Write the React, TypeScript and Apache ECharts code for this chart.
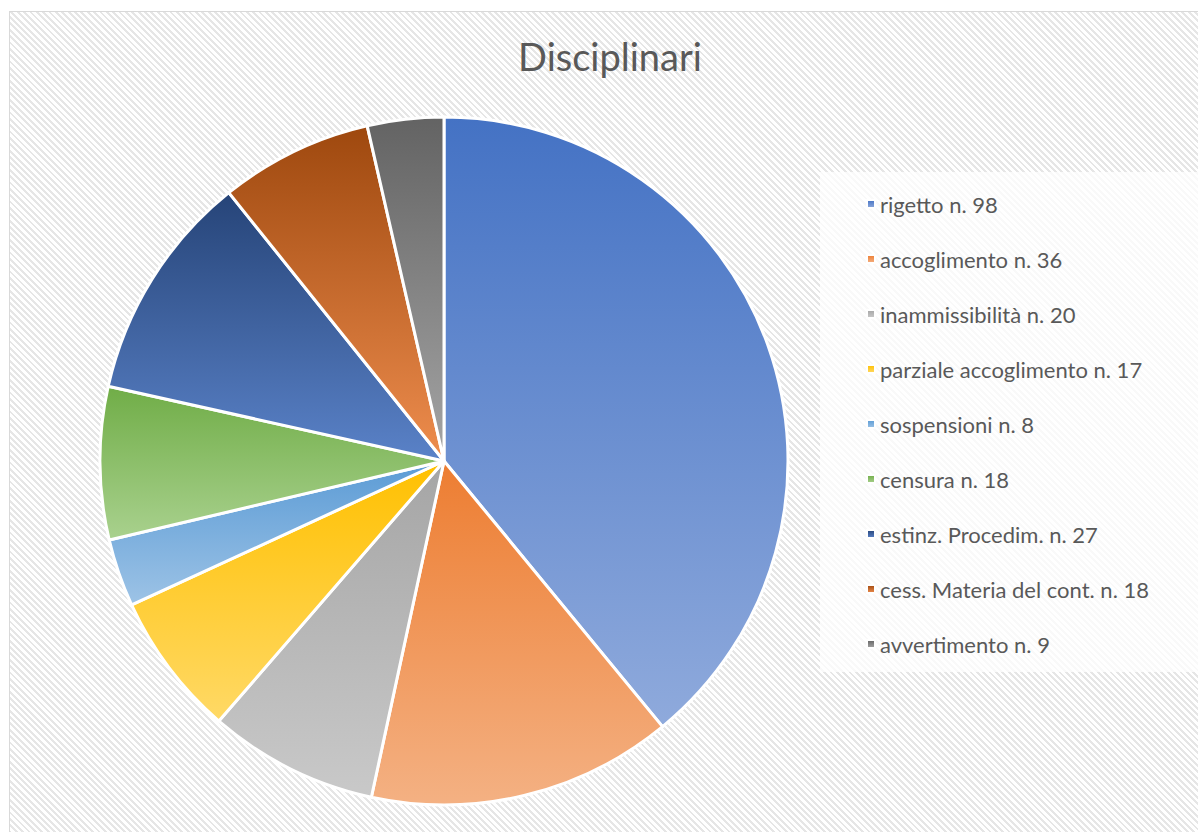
import React, { useEffect, useRef } from "react";
import * as echarts from "echarts";

const categories = [
  "rigetto n. 98",
  "accoglimento n. 36",
  "inammissibilità n. 20",
  "parziale accoglimento n. 17",
  "sospensioni n. 8",
  "censura n. 18",
  "estinz. Procedim. n. 27",
  "cess. Materia del cont. n. 18",
  "avvertimento n. 9",
];
const values = [98, 36, 20, 17, 8, 18, 27, 18, 9];
const topColors = ["#4472C4", "#ED7D31", "#A5A5A5", "#FFC000", "#5B9BD5", "#70AD47", "#264478", "#9E480E", "#636363"];
const bottomColors = ["#8FAADC", "#F4B183", "#C9C9C9", "#FFD966", "#9DC3E6", "#A9D18E", "#5A82C8", "#EE8D4E", "#A5A5A5"];

export default function App() {
  const ref = useRef<HTMLDivElement>(null);
  useEffect(() => {
    if (!ref.current) return;
    const chart = echarts.init(ref.current, undefined, { renderer: "svg" });
    const data = categories.map((name, i) => ({
      name,
      value: values[i],
      itemStyle: {
        color: {
          type: "linear",
          x: 0,
          y: 0,
          x2: 0,
          y2: 1,
          colorStops: [
            { offset: 0, color: topColors[i] },
            { offset: 1, color: bottomColors[i] },
          ],
        },
      },
    }));
    chart.setOption({
      animation: false,
      backgroundColor: "transparent",
      title: {
        text: "Disciplinari",
        left: 605,
        top: 32,
        textAlign: "center",
        textStyle: {
          fontFamily: "Lato, 'Noto Sans', sans-serif",
          fontSize: 38,
          fontWeight: "normal",
          color: "#595959",
        },
      },
      graphic: [
        {
          type: "rect",
          shape: { x: 820, y: 172, width: 400, height: 500 },
          style: { fill: "rgba(255,255,255,0.75)" },
          z: -1,
        },
      ],
      legend: {
        orient: "vertical",
        left: 861,
        top: 187,
        itemWidth: 8,
        itemHeight: 8,
        itemGap: 31,
        icon: "rect",
        textStyle: {
          fontFamily: "Lato, 'Noto Sans', sans-serif",
          fontSize: 22,
          color: "#595959",
          lineHeight: 24,
        },
        data: categories,
      },
      series: [
        {
          type: "pie",
          center: [444, 461],
          radius: 344,
          startAngle: 90,
          clockwise: true,
          label: { show: false },
          labelLine: { show: false },
          itemStyle: { borderColor: "#ffffff", borderWidth: 3 },
          emphasis: { disabled: true },
          data,
        },
      ],
    });
    return () => chart.dispose();
  }, []);
  return (
    <div style={{ position: "fixed", left: 0, top: 0, width: 1198, height: 832, overflow: "hidden", background: "#ffffff" }}>
      <div
        style={{
          position: "absolute",
          left: 9,
          top: 11,
          width: 1220,
          height: 850,
          border: "1px solid #d9d9d9",
          background:
            "repeating-linear-gradient(45deg, #ffffff 0px, #ffffff 2.5px, #e6e6e6 2.5px, #e6e6e6 4.5px)",
        }}
      />
      <div ref={ref} style={{ position: "absolute", left: 0, top: 0, width: 1198, height: 832 }} />
    </div>
  );
}
